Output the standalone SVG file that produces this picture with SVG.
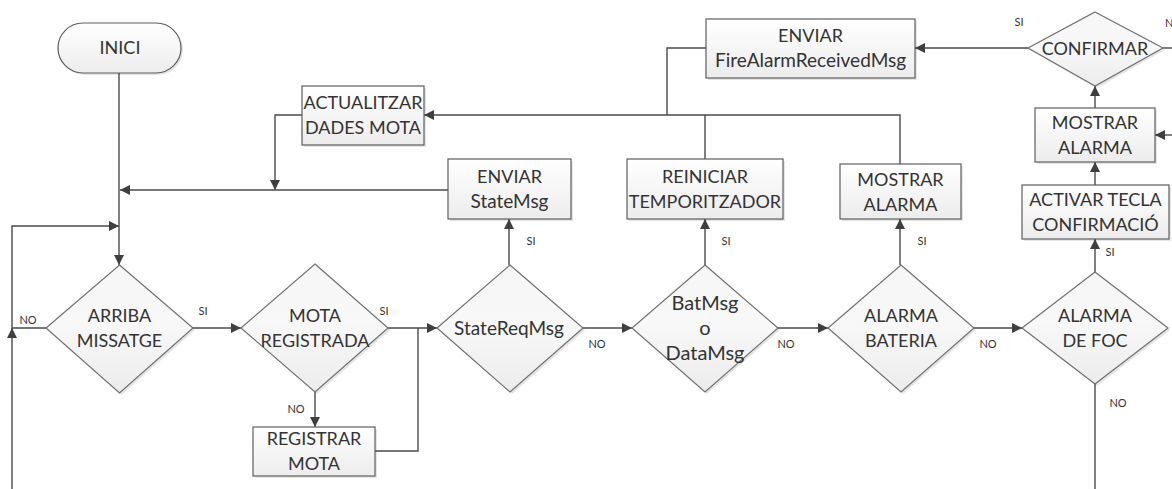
<svg xmlns="http://www.w3.org/2000/svg" width="1172" height="489" viewBox="0 0 1172 489">
  <defs>
    <linearGradient id="fillBox" x1="0" y1="0" x2="0" y2="1">
      <stop offset="0" stop-color="#ffffff"/>
      <stop offset="1" stop-color="#ececec"/>
    </linearGradient>
    <linearGradient id="fillDia" x1="0" y1="0" x2="0" y2="1">
      <stop offset="0" stop-color="#f6f6f6"/>
      <stop offset="0.45" stop-color="#f8f8f8"/>
      <stop offset="1" stop-color="#ececec"/>
    </linearGradient>
    <marker id="arrow" viewBox="0 0 10 10" refX="10" refY="5" markerWidth="11" markerHeight="10" markerUnits="userSpaceOnUse" orient="auto">
      <path d="M0,0 L10,5 L0,10 Z" fill="#3f3f3f"/>
    </marker>
  </defs>
  <style>
    .shape { fill: url(#fillBox); stroke: #5e5e5e; stroke-width: 1.2; }
    .dia { fill: url(#fillDia); stroke: #707070; stroke-width: 1.2; }
    .shadow { fill: #000; opacity: 0.10; }
    .lbl { font-family: Lato, "Liberation Sans", sans-serif; font-size: 18px; fill: #333; text-anchor: middle; }
    .mixed { font-size: 19px; }
    .small { font-family: Lato, "Liberation Sans", sans-serif; font-size: 11px; fill: #333; text-anchor: middle; }
    .conn path { fill: none; stroke: #4a4a4a; stroke-width: 1.4; }
    .conn path.arr { marker-end: url(#arrow); }
  </style>

  <rect width="1172" height="489" fill="#ffffff"/>

  <!-- connectors -->
  <g id="connectors" class="conn">
    <path class="arr" d="M119,73 V265"/>
    <path class="arr" d="M448,190 H120"/>
    <path class="arr" d="M302,115 H275 V190"/>
    <path class="arr" d="M12,489 V328"/>
    <path class="arr" d="M46,328 H12 V226 H119"/>
    <path class="arr" d="M193,328 H241"/>
    <path class="arr" d="M315,392 V427"/>
    <path class="arr" d="M388,328 H437"/>
    <path d="M375,451 H418 V328"/>
    <path class="arr" d="M509,265 V219"/>
    <path class="arr" d="M583,328 H632"/>
    <path class="arr" d="M705,265 V219"/>
    <path class="arr" d="M778,328 H828"/>
    <path class="arr" d="M900,265 V219"/>
    <path class="arr" d="M974,328 H1022"/>
    <path class="arr" d="M1095,272 V239"/>
    <path d="M1095,384 V489"/>
    <path class="arr" d="M1095,185 V162"/>
    <path class="arr" d="M1095,108 V86"/>
    <path class="arr" d="M1172,135 H1155"/>
    <path d="M1163,48 H1172"/>
    <path class="arr" d="M1028,48 H915"/>
    <path d="M706,48 H667 V115"/>
    <path d="M705,159 V115"/>
    <path class="arr" d="M900,164 V115 H424"/>
  </g>

  <!-- branch labels -->
  <g id="branch-labels">
    <text class="small" x="28" y="324">NO</text>
    <text class="small" x="203" y="315">SI</text>
    <text class="small" x="384" y="315">SI</text>
    <text class="small" x="296" y="413">NO</text>
    <text class="small" x="531" y="245">SI</text>
    <text class="small" x="597" y="348">NO</text>
    <text class="small" x="726" y="245">SI</text>
    <text class="small" x="786" y="348">NO</text>
    <text class="small" x="922" y="245">SI</text>
    <text class="small" x="988" y="348">NO</text>
    <text class="small" x="1110" y="256">SI</text>
    <text class="small" x="1118" y="407">NO</text>
    <text class="small" x="1019" y="26">SI</text>
    <text class="small" x="1165" y="27" style="text-anchor:start">N</text>
  </g>

  <!-- start terminator -->
  <g id="inici">
    <rect class="shadow" x="60" y="25" width="123" height="50" rx="25"/>
    <rect class="shape" x="58" y="23" width="123" height="50" rx="25"/>
    <text class="lbl" x="120" y="54">INICI</text>
  </g>

  <!-- decisions -->
  <g id="arriba-missatge">
    <polygon class="shadow" points="121.5,267 195,330 121.5,395 48,330"/>
    <polygon class="dia" points="119.5,265 193,328 119.5,393 46,328"/>
    <text class="lbl" x="119.5" y="322">ARRIBA</text>
    <text class="lbl" x="119.5" y="347">MISSATGE</text>
  </g>

  <g id="mota-registrada">
    <polygon class="shadow" points="317,266 390,330 317,394 244,330"/>
    <polygon class="dia" points="315,264 388,328 315,392 241,328"/>
    <text class="lbl" x="315" y="322">MOTA</text>
    <text class="lbl" x="315" y="347">REGISTRADA</text>
  </g>

  <g id="state-req-msg">
    <polygon class="shadow" points="512,267 585,330 512,394 439,330"/>
    <polygon class="dia" points="510,265 583,328 510,392 437,328"/>
    <text class="lbl mixed" x="509" y="335">StateReqMsg</text>
  </g>

  <g id="bat-data-msg">
    <polygon class="shadow" points="707,267 780,330 707,394 634,330"/>
    <polygon class="dia" points="705,265 778,328 705,392 632,328"/>
    <text class="lbl mixed" x="705" y="310" style="font-size:20px">BatMsg</text>
    <text class="lbl mixed" x="705" y="335" style="font-size:20px">o</text>
    <text class="lbl mixed" x="705" y="360" style="font-size:20px">DataMsg</text>
  </g>

  <g id="alarma-bateria">
    <polygon class="shadow" points="903,267 976,330 903,394 830,330"/>
    <polygon class="dia" points="901,265 974,328 901,392 828,328"/>
    <text class="lbl" x="901" y="322">ALARMA</text>
    <text class="lbl" x="901" y="347">BATERIA</text>
  </g>

  <g id="alarma-foc">
    <polygon class="shadow" points="1097,274 1170,330 1097,386 1024,330"/>
    <polygon class="dia" points="1095,272 1168,328 1095,384 1022,328"/>
    <text class="lbl" x="1095" y="322">ALARMA</text>
    <text class="lbl" x="1095" y="347">DE FOC</text>
  </g>

  <g id="confirmar">
    <polygon class="shadow" points="1097,14 1165,50 1097,88 1030,50"/>
    <polygon class="dia" points="1095,12 1163,48 1095,86 1028,48"/>
    <text class="lbl" x="1095" y="55">CONFIRMAR</text>
  </g>

  <!-- processes -->
  <g id="registrar-mota">
    <rect class="shadow" x="255" y="429" width="122" height="49"/>
    <rect class="shape" x="253" y="427" width="122" height="49"/>
    <text class="lbl" x="314" y="445">REGISTRAR</text>
    <text class="lbl" x="314" y="470">MOTA</text>
  </g>

  <g id="actualitzar-dades">
    <rect class="shadow" x="304" y="88" width="122" height="59"/>
    <rect class="shape" x="302" y="86" width="122" height="59"/>
    <text class="lbl" x="363" y="109">ACTUALITZAR</text>
    <text class="lbl" x="363" y="134">DADES MOTA</text>
  </g>

  <g id="enviar-state">
    <rect class="shadow" x="450" y="161" width="123" height="60"/>
    <rect class="shape" x="448" y="159" width="123" height="60"/>
    <text class="lbl" x="509.5" y="183">ENVIAR</text>
    <text class="lbl mixed" x="509.5" y="208">StateMsg</text>
  </g>

  <g id="reiniciar-temporitzador">
    <rect class="shadow" x="629" y="161" width="156" height="60"/>
    <rect class="shape" x="627" y="159" width="156" height="60"/>
    <text class="lbl" x="705" y="183">REINICIAR</text>
    <text class="lbl" x="705" y="208">TEMPORITZADOR</text>
  </g>

  <g id="mostrar-alarma-bateria">
    <rect class="shadow" x="842" y="166" width="121" height="55"/>
    <rect class="shape" x="840" y="164" width="121" height="55"/>
    <text class="lbl" x="900.5" y="186">MOSTRAR</text>
    <text class="lbl" x="900.5" y="211">ALARMA</text>
  </g>

  <g id="enviar-fire-alarm">
    <rect class="shadow" x="708" y="21" width="209" height="59"/>
    <rect class="shape" x="706" y="19" width="209" height="59"/>
    <text class="lbl" x="810.5" y="42">ENVIAR</text>
    <text class="lbl mixed" x="810.5" y="67">FireAlarmReceivedMsg</text>
  </g>

  <g id="activar-tecla">
    <rect class="shadow" x="1024" y="187" width="147" height="54"/>
    <rect class="shape" x="1022" y="185" width="147" height="54"/>
    <text class="lbl" x="1095.5" y="206">ACTIVAR TECLA</text>
    <text class="lbl" x="1095.5" y="231">CONFIRMACIÓ</text>
  </g>

  <g id="mostrar-alarma-foc">
    <rect class="shadow" x="1037" y="110" width="120" height="54"/>
    <rect class="shape" x="1035" y="108" width="120" height="54"/>
    <text class="lbl" x="1095" y="129">MOSTRAR</text>
    <text class="lbl" x="1095" y="154">ALARMA</text>
  </g>
</svg>
